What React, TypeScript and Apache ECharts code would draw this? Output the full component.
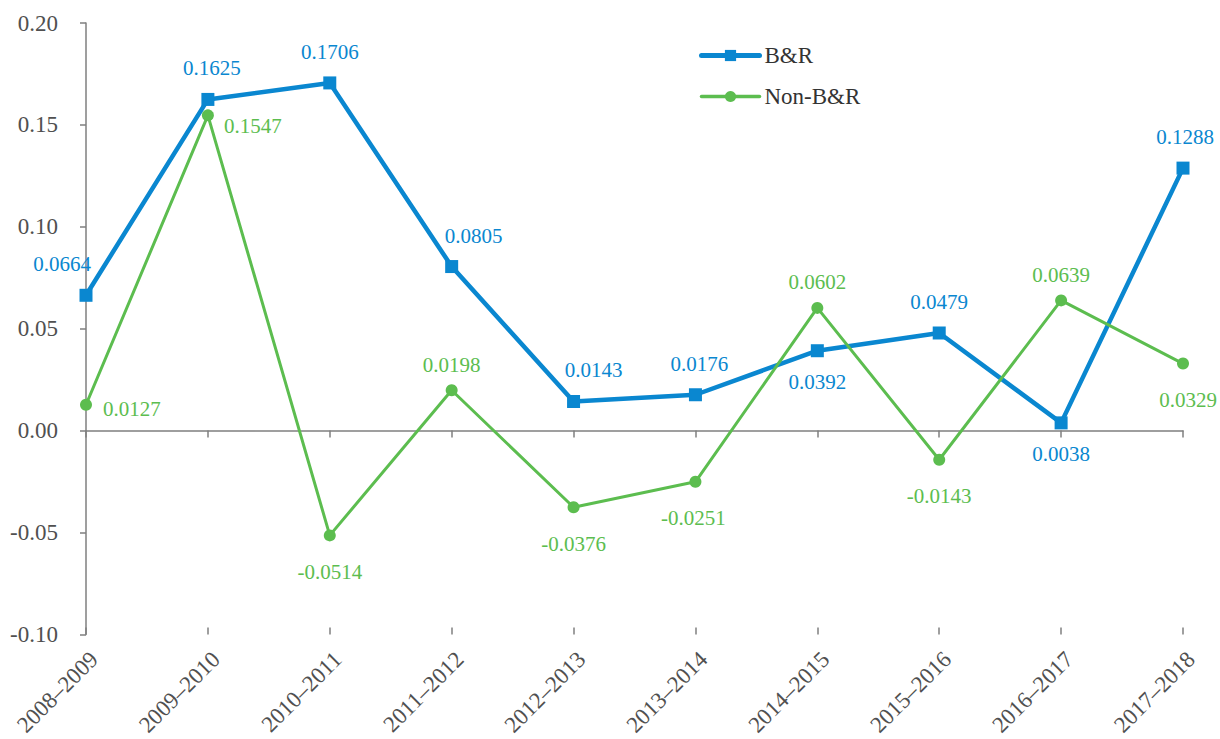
import React, { useEffect, useRef } from "react";
import * as echarts from "echarts";

const categories = [
  "2008–2009", "2009–2010", "2010–2011", "2011–2012", "2012–2013",
  "2013–2014", "2014–2015", "2015–2016", "2016–2017", "2017–2018",
];
const brValues = [0.0664, 0.1625, 0.1706, 0.0805, 0.0143, 0.0176, 0.0392, 0.0479, 0.0038, 0.1288];
const nonBrValues = [0.0127, 0.1547, -0.0514, 0.0198, -0.0376, -0.0251, 0.0602, -0.0143, 0.0639, 0.0329];
const yTicks = { min: -0.1, max: 0.2, interval: 0.05 };

// label placements (style only)
const brLabelPos = [
  { position: "top", offset: [-24, 0] },
  { position: "top", offset: [4, 0] },
  { position: "top", offset: [0, 0] },
  { position: "top", offset: [22, 0] },
  { position: "top", offset: [20, 0] },
  { position: "top", offset: [4, 0] },
  { position: "bottom", offset: [0, 0] },
  { position: "top", offset: [0, 0] },
  { position: "bottom", offset: [0, 0] },
  { position: "top", offset: [2, 0] },
];
const nonBrLabelPos = [
  { position: "right", offset: [0, 4], distance: 11 },
  { position: "right", offset: [0, 11], distance: 10 },
  { position: "bottom", offset: [0, 0] },
  { position: "top", offset: [0, 0] },
  { position: "bottom", offset: [0, 0] },
  { position: "bottom", offset: [-2, 0] },
  { position: "top", offset: [0, 0] },
  { position: "bottom", offset: [0, 0] },
  { position: "top", offset: [0, 0] },
  { position: "bottom", offset: [5, 0] },
];

const FONT = "'Liberation Serif', 'Times New Roman', serif";
const BLUE = "#0a87d0";
const GREEN = "#5cbd4f";
const AXIS = "#7f7f7f";
const TEXT = "#505050";

export default function App() {
  const ref = useRef<HTMLDivElement>(null);
  useEffect(() => {
    document.body.style.margin = "0";
    if (!ref.current) return;
    const chart = echarts.init(ref.current, null, { renderer: "svg" });
    const catCommon = {
      type: "category",
      data: categories,
      boundaryGap: false,
      gridIndex: 0,
    };
    chart.setOption({
      animation: false,
      textStyle: { fontFamily: FONT },
      grid: { left: 86, right: 37, top: 23, bottom: 94, containLabel: false },
      legend: {
        orient: "vertical",
        left: 694,
        top: 39,
        itemWidth: 58,
        itemHeight: 14,
        itemGap: 18,
        textStyle: { fontFamily: FONT, fontSize: 23, color: "#333" },
        data: [
          { name: "B&R", lineStyle: { width: 5, cap: "round" } },
          { name: "Non-B&R", lineStyle: { width: 3.5, cap: "round" } },
        ],
      },
      xAxis: [
        {
          ...catCommon,
          position: "bottom",
          axisLine: { show: false, onZero: false },
          axisTick: { show: false },
          axisLabel: {
            rotate: 45,
            fontFamily: FONT,
            fontSize: 23,
            color: TEXT,
            margin: 13,
            verticalAlign: "top",
          },
        },
        {
          ...catCommon,
          position: "bottom",
          axisLine: { show: true, onZero: true, lineStyle: { color: AXIS, width: 1.5 } },
          axisTick: { show: true, inside: false, length: 7, lineStyle: { color: AXIS, width: 1.5 } },
          axisLabel: { show: false },
        },
        {
          ...catCommon,
          position: "bottom",
          axisLine: { show: false, onZero: true },
          axisTick: { show: true, inside: true, length: 7, lineStyle: { color: AXIS, width: 1.5 } },
          axisLabel: { show: false },
        },
      ],
      yAxis: {
        type: "value",
        min: yTicks.min,
        max: yTicks.max,
        interval: yTicks.interval,
        splitLine: { show: false },
        axisLine: { show: true, lineStyle: { color: AXIS, width: 1.5 } },
        axisTick: { show: true, length: 6, lineStyle: { color: AXIS, width: 1.5 } },
        axisLabel: {
          fontFamily: FONT,
          fontSize: 23,
          color: TEXT,
          margin: 28,
          formatter: (v: number) => v.toFixed(2),
        },
      },
      series: [
        {
          name: "B&R",
          type: "line",
          xAxisIndex: 0,
          symbol: "rect",
          symbolSize: 13,
          itemStyle: { color: BLUE },
          lineStyle: { color: BLUE, width: 4.5 },
          z: 3,
          label: {
            show: true,
            fontFamily: FONT,
            fontSize: 21,
            color: BLUE,
            distance: 14,
            formatter: (p: any) => p.value.toFixed(4),
          },
          data: brValues.map((v, i) => ({
            value: v,
            label: { position: brLabelPos[i].position, offset: brLabelPos[i].offset },
          })),
        },
        {
          name: "Non-B&R",
          type: "line",
          xAxisIndex: 0,
          symbol: "circle",
          symbolSize: 12,
          itemStyle: { color: GREEN },
          lineStyle: { color: GREEN, width: 3 },
          z: 4,
          label: {
            show: true,
            fontFamily: FONT,
            fontSize: 21,
            color: GREEN,
            formatter: (p: any) => p.value.toFixed(4),
          },
          data: nonBrValues.map((v, i) => {
            const lp = nonBrLabelPos[i];
            const dist = lp.distance ?? (lp.position === "bottom" ? 20 : 9);
            return {
              value: v,
              label: { position: lp.position, offset: lp.offset, distance: dist },
            };
          }),
        },
      ],
    });
    return () => chart.dispose();
  }, []);
  return <div ref={ref} style={{ width: 1220, height: 739 }} />;
}
